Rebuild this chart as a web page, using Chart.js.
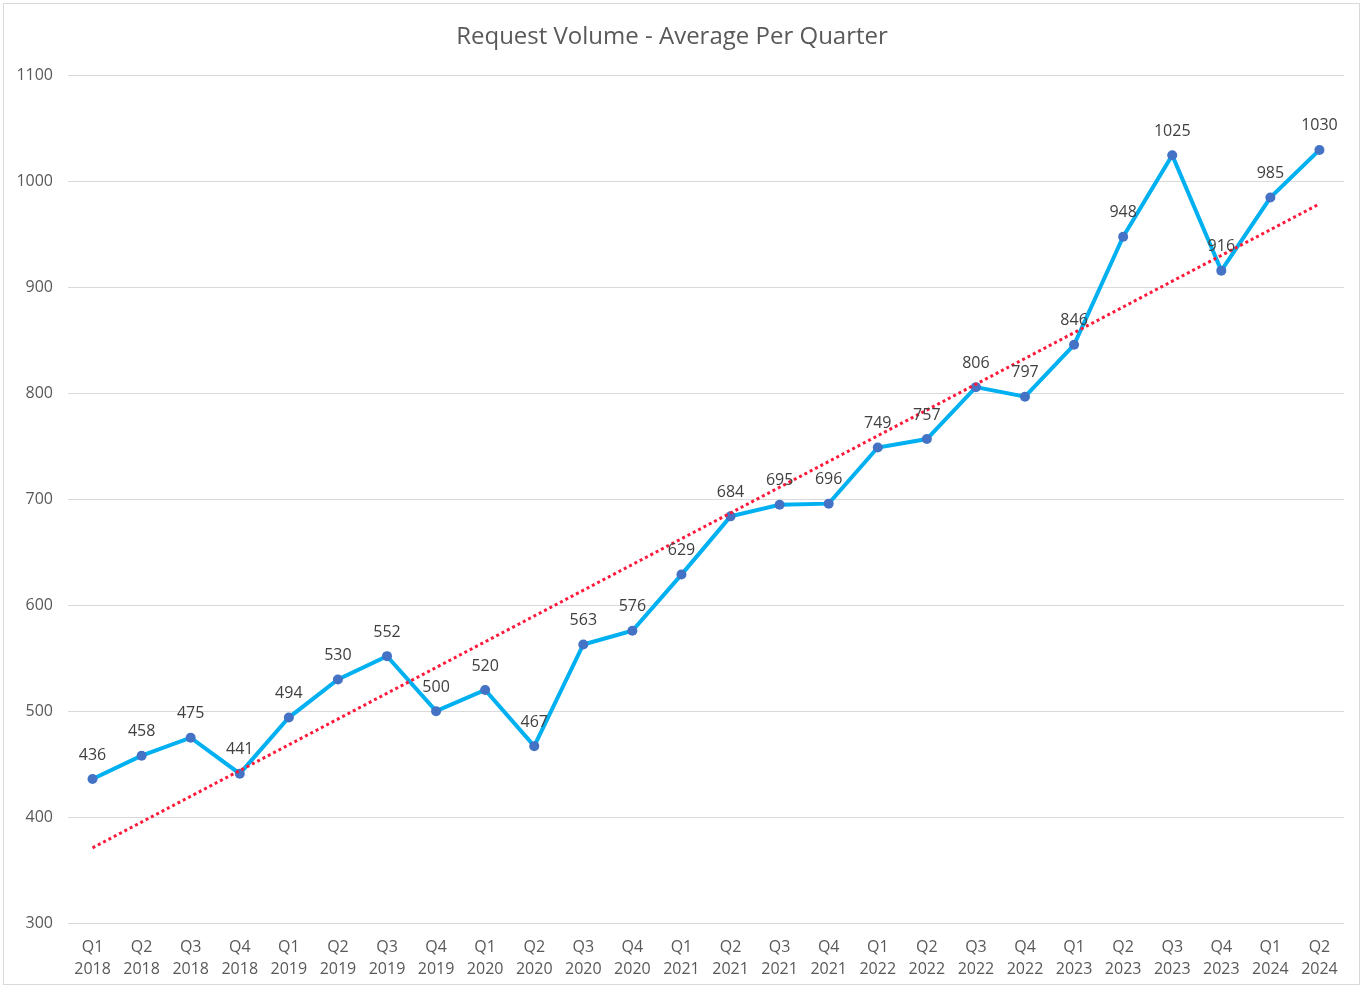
<!DOCTYPE html>
<html>
<head>
<meta charset="utf-8">
<script src="https://cdn.jsdelivr.net/npm/chart.js@4"></script>
<style>
  body { margin: 0; background: #fff; }
  #wrap { position: relative; width: 1365px; height: 991px; }
  #frame { position: absolute; left: 3px; top: 3px; width: 1357px; height: 982px; border: 1px solid #d9d9d9; box-sizing: border-box; }
  canvas { position: absolute; left: 0; top: 0; }
</style>
</head>
<body>
<div id="wrap">
  <div id="frame"></div>
  <canvas id="myChart" width="1365" height="991"></canvas>
</div>
<script>
var quarters = ['Q1','Q2','Q3','Q4','Q1','Q2','Q3','Q4','Q1','Q2','Q3','Q4','Q1','Q2','Q3','Q4',
                'Q1','Q2','Q3','Q4','Q1','Q2','Q3','Q4','Q1','Q2'];
var years = ['2018','2018','2018','2018','2019','2019','2019','2019','2020','2020','2020','2020',
             '2021','2021','2021','2021','2022','2022','2022','2022','2023','2023','2023','2023','2024','2024'];
var requests = [436, 458, 475, 441, 494, 530, 552, 500, 520, 467, 563, 576, 629,
                684, 695, 696, 749, 757, 806, 797, 846, 948, 1025, 916, 985, 1030];
// trendline end points
var trendStart = 371;
var trendEnd = 979;
var yTicks = [300, 400, 500, 600, 700, 800, 900, 1000, 1100];

var labels = quarters.map(function (q, i) { return [q, years[i]]; });
var trend = requests.map(function () { return null; });
trend[0] = trendStart;
trend[trend.length - 1] = trendEnd;

var FONT = "'Open Sans', sans-serif";

// draws value labels above the points of the request series
var valueLabels = {
    id: 'valueLabels',
    afterDatasetsDraw: function (chart) {
        var ctx = chart.ctx;
        var meta = chart.getDatasetMeta(1);
        ctx.save();
        ctx.font = '16px ' + FONT;
        ctx.fillStyle = '#404040';
        ctx.textAlign = 'center';
        ctx.textBaseline = 'middle';
        meta.data.forEach(function (pt, i) {
            ctx.fillText(String(requests[i]), pt.x, pt.y - 24);
        });
        ctx.restore();
    }
};

var ctx = document.getElementById('myChart').getContext('2d');
var myChart = new Chart(ctx, {
    type: 'line',
    data: {
        labels: labels,
        datasets: [
            {
                label: 'Linear trend',
                data: trend,
                spanGaps: true,
                borderColor: '#ff1a3c',
                borderWidth: 3,
                borderDash: [3, 3],
                pointRadius: 0,
                fill: false,
                order: 0
            },
            {
                label: 'Request Volume',
                data: requests,
                borderColor: '#00b0f0',
                borderWidth: 4,
                pointRadius: 5,
                pointBackgroundColor: '#4472c4',
                pointBorderColor: '#4472c4',
                pointBorderWidth: 0,
                tension: 0,
                fill: false,
                order: 1
            }
        ]
    },
    options: {
        responsive: false,
        animation: false,
        layout: { padding: { left: 0, right: 21, top: 0, bottom: 11 } },
        plugins: {
            legend: { display: false },
            tooltip: { enabled: false },
            title: {
                display: true,
                text: 'Request Volume - Average Per Quarter',
                color: '#595959',
                font: { family: FONT, size: 24, weight: 'normal' },
                padding: { top: 23, bottom: 24 }
            }
        },
        scales: {
            x: {
                offset: true,
                afterFit: function (scale) { scale.height = 57; },
                grid: { display: false },
                border: { display: false },
                ticks: {
                    color: '#595959',
                    font: { family: FONT, size: 16, lineHeight: 1.4 },
                    padding: 5,
                    maxRotation: 0,
                    autoSkip: false
                }
            },
            y: {
                min: 300,
                max: 1100,
                afterFit: function (scale) { scale.width = 68; },
                afterBuildTicks: function (scale) {
                    scale.ticks = yTicks.map(function (v) { return { value: v }; });
                },
                grid: { color: '#d9d9d9', lineWidth: 1, drawTicks: false },
                border: { display: false },
                ticks: {
                    color: '#595959',
                    font: { family: FONT, size: 16 },
                    padding: 15,
                    callback: function (v) { return String(v); }
                }
            }
        }
    },
    plugins: [valueLabels]
});
</script>
</body>
</html>
